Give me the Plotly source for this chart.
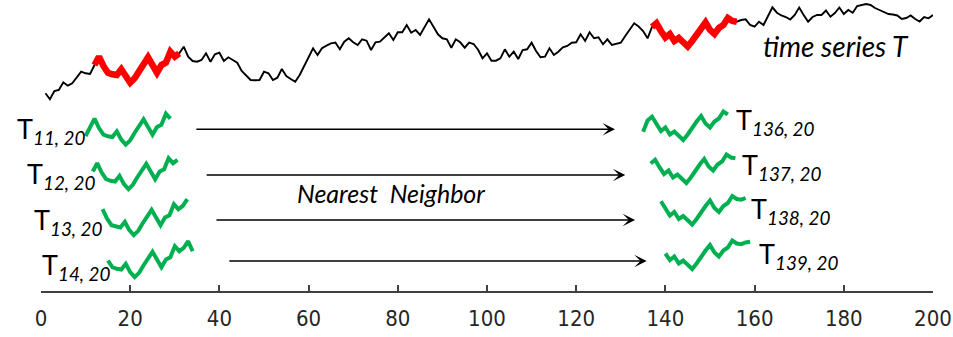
import numpy as np
import plotly.graph_objects as go

# Time series T (200 samples)
ts_values = [
    0.67, 0.07, 0.90, 1.00, 1.77, 1.43, 1.67, 2.23, 2.83, 2.67,
    2.60, 3.50, 4.33, 3.40, 2.73, 2.57, 2.50, 3.07, 2.23, 1.73,
    2.17, 2.93, 3.67, 4.27, 3.50, 2.73, 3.50, 3.73, 4.83, 4.33,
    4.67, 5.33, 4.33, 3.90, 3.83, 4.00, 4.67, 3.83, 4.57, 4.73,
    3.90, 4.27, 4.00, 3.73, 2.90, 2.50, 2.00, 1.97, 2.00, 2.83,
    2.67, 2.00, 2.23, 3.10, 2.40, 2.10, 1.83, 2.50, 3.40, 4.23,
    5.17, 4.50, 5.17, 5.43, 5.67, 5.75, 5.07, 5.83, 6.17, 5.77,
    5.50, 6.07, 5.93, 5.00, 5.77, 5.83, 6.27, 6.67, 6.00, 6.77,
    6.77, 7.50, 6.73, 7.00, 6.50, 7.23, 8.07, 7.33, 6.57, 6.17,
    6.07, 5.23, 6.07, 5.77, 5.23, 5.73, 5.60, 5.03, 4.17, 4.67,
    3.93, 3.93, 4.17, 5.07, 4.33, 4.83, 4.10, 5.00, 5.07, 5.73,
    4.90, 4.27, 4.33, 5.17, 4.50, 4.83, 5.27, 5.40, 5.73, 5.77,
    6.57, 5.90, 6.77, 6.17, 6.27, 5.57, 6.07, 5.50, 5.60, 5.73,
    6.40, 7.10, 7.67, 7.35, 6.90, 6.17, 7.30, 7.67, 6.90, 6.25,
    6.60, 5.90, 6.20, 5.70, 5.35, 5.90, 6.60, 7.20, 7.75, 7.00,
    6.60, 7.20, 7.50, 8.20, 7.90, 7.83, 8.00, 8.07, 7.50, 7.33,
    7.83, 7.50, 8.40, 9.27, 8.73, 8.45, 8.30, 8.05, 8.50, 9.25,
    8.50, 7.83, 8.30, 8.50, 8.50, 8.95, 8.33, 8.70, 9.25, 8.60,
    9.00, 8.73, 9.40, 9.50, 9.60, 9.50, 9.20, 9.00, 8.83, 8.60,
    8.55, 8.45, 8.10, 8.20, 8.45, 8.10, 7.85, 8.30, 8.17, 8.50,
]
ts_index = list(range(1, 201))

SUB_LEN = 20
highlight_starts = [12, 137]          # nearest-neighbour pair shown in red
left_starts = [11, 12, 13, 14]
right_starts = [136, 137, 138, 139]
left_shift_x = [-1.0, -0.4, 0.8, 1.0]
right_shift_x = [-1.0, -0.3, 1.0, 1.0]
left_shift_y = [-6.2, -10.65, -15.25, -19.45]
right_shift_y = [-9.35, -13.65, -17.8, -22.25]
arrow_rows = [-2.93, -7.5, -12.0, -16.1]
arrow_from = [34.5, 36.8, 39.0, 41.9]
arrow_to = [128.7, 131.0, 133.2, 135.8]
x_ticks = list(range(0, 201, 20))

x = np.array(ts_index, dtype=float)
y = np.array(ts_values, dtype=float)

GREEN = "#00B050"
LABEL_FONT = "Lato, 'Open Sans', sans-serif"

fig = go.Figure()

fig.add_trace(go.Scatter(x=x, y=y, mode="lines",
                         line=dict(color="black", width=1.9),
                         hoverinfo="skip", showlegend=False))

for s in highlight_starts:
    sl = slice(s - 1, s - 1 + SUB_LEN)
    fig.add_trace(go.Scatter(x=x[sl], y=y[sl], mode="lines",
                             line=dict(color="#FF0000", width=6.5),
                             hoverinfo="skip", showlegend=False))


def add_subsequence(start, dx, dy):
    sl = slice(start - 1, start - 1 + SUB_LEN)
    fig.add_trace(go.Scatter(x=x[sl] + dx, y=y[sl] + dy, mode="lines",
                             line=dict(color=GREEN, width=4),
                             hoverinfo="skip", showlegend=False))


for s, dx, dy in zip(left_starts, left_shift_x, left_shift_y):
    add_subsequence(s, dx, dy)
for s, dx, dy in zip(right_starts, right_shift_x, right_shift_y):
    add_subsequence(s, dx, dy)

annotations = []


def name_label(s, xpos, xref, ypos):
    return dict(x=xpos, y=ypos, xref=xref, yref="y", showarrow=False,
                xanchor="left", yanchor="middle",
                text=f"T<sub><i>{s}, {SUB_LEN}</i></sub>",
                font=dict(family=LABEL_FONT, size=27, color="black"))


# subsequence names (left column sits in the left margin, so paper coords)
left_label_pos = [(-0.0291, -3.0), (-0.0179, -7.5), (-0.0101, -12.1), (-0.0011, -16.6)]
right_label_pos = [(155.4, -2.1), (156.7, -6.6), (158.7, -11.0), (160.5, -15.5)]
for s, (lx, ly) in zip(left_starts, left_label_pos):
    annotations.append(name_label(s, lx, "paper", ly))
for s, (lx, ly) in zip(right_starts, right_label_pos):
    annotations.append(name_label(s, lx, "x", ly))

# nearest-neighbour arrows
for ay, x0, x1 in zip(arrow_rows, arrow_from, arrow_to):
    annotations.append(dict(x=x1, y=ay, ax=x0, ay=ay, xref="x", yref="y",
                            axref="x", ayref="y", showarrow=True, text="",
                            arrowhead=3, arrowsize=1.3, arrowwidth=1.6,
                            arrowcolor="black", standoff=0, startstandoff=0))

annotations.append(dict(x=57.0, y=-9.3, xref="x", yref="y", showarrow=False,
                        xanchor="left", yanchor="middle",
                        text="<i>Nearest  Neighbor</i>",
                        font=dict(family=LABEL_FONT, size=25, color="black")))
annotations.append(dict(x=161.5, y=5.4, xref="x", yref="y", showarrow=False,
                        xanchor="left", yanchor="middle",
                        text="<i>time series T</i>",
                        font=dict(family=LABEL_FONT, size=28, color="black")))

fig.update_layout(
    width=953, height=337,
    margin=dict(l=41, r=20, t=0, b=46, pad=0),
    paper_bgcolor="white", plot_bgcolor="white",
    annotations=annotations,
    xaxis=dict(range=[0, 200], tickvals=x_ticks, ticks="inside", ticklen=6,
               tickwidth=1.5, tickcolor="#404040", showline=True,
               linecolor="#404040", linewidth=2, showgrid=False, zeroline=False,
               ticklabelstandoff=7,
               tickfont=dict(family="'Liberation Sans Narrow', 'Arial Narrow', 'DejaVu Sans Condensed', sans-serif",
                             size=22, color="#262626")),
    yaxis=dict(range=[-19.1, 10], visible=False),
)

fig.write_html("out.html")
